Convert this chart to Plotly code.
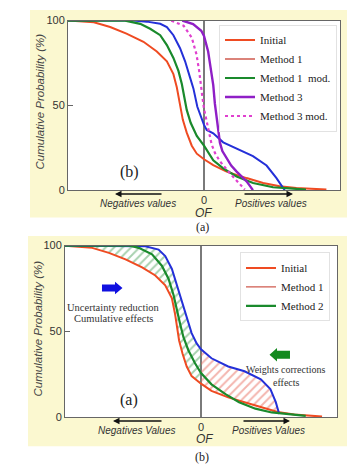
import plotly.graph_objects as go

W, H = 347, 464

# ---------------- data: top chart (b) ----------------
top_init_x = [-1.0, -0.81, -0.69, -0.57, -0.445, -0.347, -0.273, -0.225, -0.2, -0.188, -0.171, -0.156,
              -0.127, -0.09, -0.053, 0.0, 0.068, 0.166, 0.313, 0.435, 0.557, 0.679, 0.9]
top_init_y = [100, 99, 96.2, 92.3, 87.5, 81.8, 76, 68.4, 60.7, 55, 49.2, 41.6,
              33.9, 26.2, 21.5, 18.2, 14.7, 10.9, 7.1, 4.2, 2.3, 1.3, 0.3]

top_m1_x = [-1.0, -0.52, -0.42, -0.322, -0.273, -0.225, -0.176, -0.139, -0.103, -0.078, -0.049, -0.017,
            0.0, 0.02, 0.068, 0.141, 0.24, 0.36, 0.46, 0.533, 0.581, 0.594]
top_m1_y = [100, 100, 99.4, 98.1, 96.2, 91.4, 83.7, 76, 66.5, 60, 49.2, 41.6,
            38.5, 35.5, 33.5, 28.2, 24.3, 20, 14.5, 7.1, 1.3, 0]

top_m1mod_x = [-1.0, -0.58, -0.469, -0.396, -0.322, -0.273, -0.225, -0.188, -0.163, -0.147, -0.127, -0.098,
               -0.053, 0.0, 0.068, 0.141, 0.24, 0.361, 0.508, 0.63, 0.75]
top_m1mod_y = [100, 100, 98.1, 95.2, 91.4, 85.6, 78, 70.3, 62.6, 55, 47.3, 39.7,
               32, 26.2, 17.6, 12.8, 8, 4.2, 1.7, 1, 0.3]

top_m3_x = [-0.16, -0.08, -0.02, 0.0, 0.03, 0.055, 0.068, 0.08, 0.093, 0.105, 0.117, 0.135,
            0.166, 0.2, 0.24, 0.28, 0.313, 0.34, 0.36]
top_m3_y = [100, 98, 94, 91, 82, 70, 62, 51, 43, 36, 28, 23,
            18.6, 14.5, 10.9, 7.5, 5.2, 2.2, 0]

top_m3mod_x = [-0.24, -0.15, -0.09, -0.055, -0.035, -0.025, -0.012, 0.0, 0.015, 0.032, 0.056, 0.08,
               0.117, 0.19, 0.25, 0.3]
top_m3mod_y = [100, 97, 90, 80, 70, 62, 55, 48, 42, 35, 27, 22,
               17, 10, 5, 0.3]

# ---------------- data: bottom chart (a) ----------------
bot_init_x = [-1.0, -0.8, -0.677, -0.555, -0.433, -0.336, -0.263, -0.214, -0.19, -0.178, -0.161, -0.136,
              -0.105, -0.069, 0.0, 0.077, 0.2, 0.32, 0.44, 0.564, 0.686, 0.86, 0.89]
bot_init_y = [100, 98.7, 95.8, 92, 87.3, 82.6, 76.9, 69.3, 59.8, 52.3, 44.7, 37.1,
              29.5, 23.9, 19.5, 15.3, 11.5, 8.7, 5.9, 3, 1.5, 0.5, 0.3]

bot_m1_x = [-1.0, -0.48, -0.41, -0.312, -0.263, -0.214, -0.178, -0.141, -0.105, -0.069, -0.032, 0.0,
            0.077, 0.2, 0.32, 0.44, 0.51, 0.55, 0.575]
bot_m1_y = [100, 100, 99.6, 97.7, 93.9, 86.4, 76.9, 67.4, 58, 49, 43, 39.5,
            34.3, 29.5, 26.7, 22, 16.3, 8.7, 1.8]

bot_m2_x = [-1.0, -0.52, -0.458, -0.36, -0.288, -0.239, -0.202, -0.178, -0.153, -0.129, -0.093, -0.044,
            0.0, 0.077, 0.18, 0.28, 0.4, 0.52, 0.645, 0.77]
bot_m2_y = [100, 100, 98.7, 94.9, 88.3, 80.7, 71.2, 61.8, 54.2, 46.6, 39, 31.4,
            25.7, 19.1, 13.4, 8.7, 4.9, 2.7, 1.5, 0.7]

y_ticks = [0, 50, 100]
x_ticks = [0]
x_ticktext = ["0"]

RED = "#ef4b22"
RED_LEG = "#cf5a4e"
BLUE = "#2430d8"
GREEN = "#1a8a2c"
PURPLE = "#8f1fc6"
MAGENTA = "#e040cf"
YELLOW = "#fbf8d0"


def PX(x):
    return x / W


def PY(y):
    return 1 - y / H


fig = go.Figure()

# ---------- top chart traces ----------
fig.add_trace(go.Scatter(x=top_init_x, y=top_init_y, mode="lines", name="Initial",
                         line=dict(color=RED, width=2), xaxis="x", yaxis="y", legend="legend"))
fig.add_trace(go.Scatter(x=[None], y=[None], mode="lines", name="Method 1",
                         line=dict(color=RED_LEG, width=1.3), xaxis="x", yaxis="y", legend="legend"))
fig.add_trace(go.Scatter(x=top_m1_x, y=top_m1_y, mode="lines", name="Method 1", showlegend=False,
                         line=dict(color=BLUE, width=2), xaxis="x", yaxis="y"))
fig.add_trace(go.Scatter(x=top_m1mod_x, y=top_m1mod_y, mode="lines", name="Method 1  mod.",
                         line=dict(color=GREEN, width=2.2), xaxis="x", yaxis="y", legend="legend"))
fig.add_trace(go.Scatter(x=top_m3_x, y=top_m3_y, mode="lines", name="Method 3",
                         line=dict(color=PURPLE, width=2.4), xaxis="x", yaxis="y", legend="legend"))
fig.add_trace(go.Scatter(x=top_m3mod_x, y=top_m3mod_y, mode="lines", name="Method 3 mod.",
                         line=dict(color=MAGENTA, width=2.2, dash="dot"), xaxis="x", yaxis="y",
                         legend="legend"))

# ---------- bottom chart: hatched areas ----------
left_poly_x = [x for x in bot_m1_x if x <= 0] + [x for x in bot_init_x if x <= 0][::-1]
left_poly_y = [y for x, y in zip(bot_m1_x, bot_m1_y) if x <= 0] + \
              [y for x, y in zip(bot_init_x, bot_init_y) if x <= 0][::-1]
right_poly_x = [x for x in bot_m1_x if x >= 0] + [x for x in bot_init_x if 0 <= x <= 0.57][::-1]
right_poly_y = [y for x, y in zip(bot_m1_x, bot_m1_y) if x >= 0] + \
               [y for x, y in zip(bot_init_x, bot_init_y) if 0 <= x <= 0.57][::-1]

fig.add_trace(go.Scatter(x=left_poly_x, y=left_poly_y, mode="lines", fill="toself",
                         line=dict(width=0, color="rgba(0,0,0,0)"), fillcolor="rgba(255,255,255,0)",
                         fillpattern=dict(shape="/", fgcolor="#4fa35e", bgcolor="rgba(255,255,255,0)",
                                          size=6, solidity=0.32),
                         showlegend=False, hoverinfo="skip", xaxis="x2", yaxis="y2"))
fig.add_trace(go.Scatter(x=right_poly_x, y=right_poly_y, mode="lines", fill="toself",
                         line=dict(width=0, color="rgba(0,0,0,0)"), fillcolor="rgba(255,255,255,0)",
                         fillpattern=dict(shape="/", fgcolor="#e86a5c", bgcolor="rgba(255,255,255,0)",
                                          size=6, solidity=0.32),
                         showlegend=False, hoverinfo="skip", xaxis="x2", yaxis="y2"))

fig.add_trace(go.Scatter(x=bot_init_x, y=bot_init_y, mode="lines", name="Initial",
                         line=dict(color=RED, width=2), xaxis="x2", yaxis="y2", legend="legend2"))
fig.add_trace(go.Scatter(x=[None], y=[None], mode="lines", name="Method 1",
                         line=dict(color=RED_LEG, width=1.3), xaxis="x2", yaxis="y2", legend="legend2"))
fig.add_trace(go.Scatter(x=bot_m1_x, y=bot_m1_y, mode="lines", name="Method 1", showlegend=False,
                         line=dict(color=BLUE, width=2), xaxis="x2", yaxis="y2"))
fig.add_trace(go.Scatter(x=bot_m2_x, y=bot_m2_y, mode="lines", name="Method 2",
                         line=dict(color=GREEN, width=2.2), xaxis="x2", yaxis="y2", legend="legend2"))

SANS = "Liberation Sans, Arial, sans-serif"
SERIF = "Liberation Serif, Times New Roman, serif"

xax = dict(range=[-1, 1], showline=True, mirror=True, linecolor="#666", linewidth=1,
           tickvals=x_ticks, ticktext=x_ticktext, ticks="", showgrid=False,
           zeroline=True, zerolinecolor="#7a7a7a", zerolinewidth=1.5,
           tickfont=dict(family=SANS, size=11, color="#333"), fixedrange=True)
yax = dict(range=[0, 100], showline=True, mirror=True, linecolor="#666", linewidth=1,
           tickvals=y_ticks, ticks="inside", ticklen=5, tickcolor="#666", showgrid=False,
           zeroline=False, tickfont=dict(family=SANS, size=11, color="#333"), fixedrange=True)

fig.update_layout(
    width=W, height=H, margin=dict(l=0, r=0, t=0, b=0),
    paper_bgcolor="white", plot_bgcolor="rgba(0,0,0,0)",
    xaxis=dict(xax, domain=[PX(68), PX(340)], anchor="y"),
    yaxis=dict(yax, domain=[PY(189), PY(15)], anchor="x"),
    xaxis2=dict(xax, domain=[PX(65), PX(337)], anchor="y2"),
    yaxis2=dict(yax, domain=[PY(422), PY(246)], anchor="x2"),
    legend=dict(x=PX(337), xanchor="right", y=PY(19), yanchor="top",
                bgcolor="rgba(255,255,255,0.95)", bordercolor="#e2e2e2", borderwidth=1,
                font=dict(family=SERIF, size=11, color="#222"), itemwidth=30,
                tracegroupgap=0),
    legend2=dict(x=PX(330), xanchor="right", y=PY(253), yanchor="top",
                 bgcolor="rgba(255,255,255,0.95)", bordercolor="#e2e2e2", borderwidth=1,
                 font=dict(family=SERIF, size=11, color="#222"), itemwidth=30,
                 tracegroupgap=0),
    showlegend=True,
)

# yellow panels with white plot areas on top
fig.add_shape(type="rect", xref="paper", yref="paper", x0=PX(30), x1=PX(347), y0=PY(217), y1=PY(4),
              fillcolor=YELLOW, line_width=0, layer="below")
fig.add_shape(type="rect", xref="paper", yref="paper", x0=PX(28), x1=PX(347), y0=PY(452), y1=PY(236),
              fillcolor=YELLOW, line_width=0, layer="below")
fig.add_shape(type="rect", xref="x domain", yref="y domain", x0=0, x1=1, y0=0, y1=1,
              fillcolor="white", line_width=0, layer="below")
fig.add_shape(type="rect", xref="x2 domain", yref="y2 domain", x0=0, x1=1, y0=0, y1=1,
              fillcolor="white", line_width=0, layer="below")


def text(px, py, s, size, family=SANS, color="#333", italic=False, angle=0):
    fig.add_annotation(x=PX(px), y=PY(py), xref="paper", yref="paper", text=s, showarrow=False,
                       xanchor="center", yanchor="middle", textangle=angle,
                       font=dict(family=family, size=size, color=color,
                                 style="italic" if italic else "normal"))


def arrow(head_px, tail_px, py):
    fig.add_annotation(x=PX(head_px), y=PY(py), xref="paper", yref="paper", ax=tail_px - head_px, ay=0,
                       axref="pixel", ayref="pixel", text="", showarrow=True, arrowhead=2,
                       arrowsize=1, arrowwidth=1.3, arrowcolor="#111")


# top chart texts
text(40, 98, "Cumulative Probability (%)", 11.5, italic=True, color="#444", angle=-90)
text(129, 170, "(b)", 16, family=SERIF, color="#222")
text(138, 203, "Negatives values", 10, italic=True)
text(271, 203, "Positives values", 10, italic=True)
text(203, 212, "OF", 12, italic=True)
arrow(115, 163, 193)
arrow(293, 243, 193)
text(202, 227, "(a)", 12, family=SERIF, color="#222")

# bottom chart texts
text(38, 331, "Cumulative Probability (%)", 11.5, italic=True, color="#444", angle=-90)
text(129, 404, "(a)", 16, family=SERIF, color="#222")
text(136, 436, "Negatives Values", 10, italic=True)
text(268, 436, "Positives Values", 10, italic=True)
text(204, 445, "OF", 12, italic=True)
arrow(113, 163, 426)
arrow(290, 242, 426)
text(113, 309, "Uncertainty reduction", 10.5, family=SERIF, color="#333")
text(113, 321, "Cumulative effects", 10.5, family=SERIF, color="#333")
text(286, 373, "Weights corrections", 10, family=SERIF, color="#333")
text(286, 386, "effects", 10, family=SERIF, color="#333")
text(202, 463, "(b)", 12, family=SERIF, color="#222")


def block_arrow(pts, color):
    path = "M " + " L ".join(f"{PX(a):.4f},{PY(b):.4f}" for a, b in pts) + " Z"
    fig.add_shape(type="path", xref="paper", yref="paper", path=path, fillcolor=color,
                  line=dict(width=0), layer="above")


block_arrow([(102, 286), (115, 286), (115, 283), (122.5, 289.5), (115, 296), (115, 293), (102, 293)], "#1010e0")
block_arrow([(290, 354), (277, 354), (277, 351), (269.5, 358), (277, 365), (277, 362), (290, 362)], "#138a1f")

fig.write_html("out.html")
